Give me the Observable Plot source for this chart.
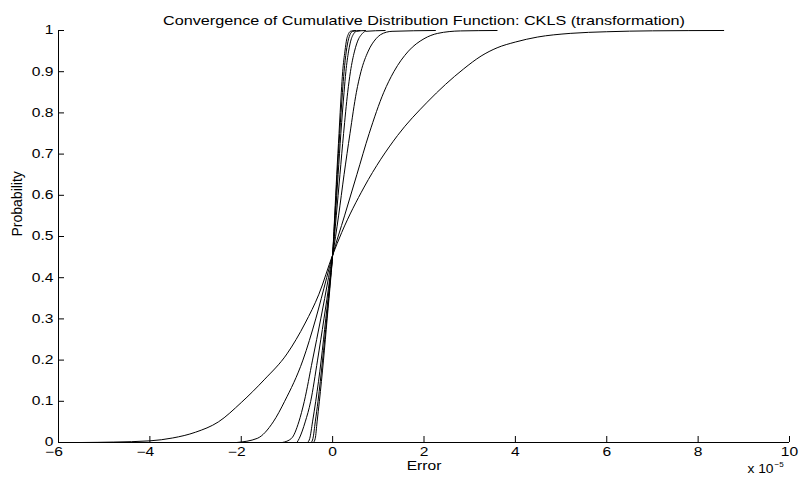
<!DOCTYPE html>
<html><head><meta charset="utf-8">
<script src="https://cdn.jsdelivr.net/npm/d3@7"></script>
<script src="https://cdn.jsdelivr.net/npm/@observablehq/plot@0.6"></script>
<style>
body{margin:0;background:#fff}
#chart svg{font-family:"Liberation Sans",Arial,Helvetica,sans-serif;}
</style>
</head><body><div id="chart"></div>
<script>
// Each curve: error values (units of 1e-5) and cumulative probability values
const curveA_x = [-5.5, -4.8, -4.0, -3.5, -3.0, -2.5, -2.0, -1.5, -1.0, -0.6, -0.3, 0, 0.2, 0.69, 1.42, 2.07, 2.87, 3.25, 3.6, 4.0, 4.48, 5.2, 6.0, 7.0, 8.56];
const curveA_p = [0, 0.001, 0.004, 0.011, 0.025, 0.05, 0.097, 0.152, 0.215, 0.29, 0.36, 0.455, 0.51, 0.62, 0.745, 0.826, 0.907, 0.938, 0.958, 0.972, 0.984, 0.993, 0.997, 0.9992, 1];
const curveB_x = [-2.1, -1.65, -1.3, -1.05, -0.65, -0.37, -0.13, 0, 0.26, 0.53, 0.8, 1.12, 1.34, 1.66, 2.0, 2.3, 2.8, 3.6];
const curveB_p = [0, 0.01, 0.05, 0.1, 0.2, 0.3, 0.4, 0.455, 0.55, 0.65, 0.75, 0.85, 0.9, 0.95, 0.98, 0.993, 0.999, 1];
const curveC_x = [-1.1, -0.9, -0.74, -0.62, -0.44, -0.26, -0.09, 0, 0.13, 0.25, 0.38, 0.52, 0.62, 0.78, 0.95, 1.05, 1.3, 2.25];
const curveC_p = [0, 0.01, 0.05, 0.1, 0.2, 0.3, 0.4, 0.455, 0.55, 0.65, 0.75, 0.85, 0.9, 0.95, 0.98, 0.99, 0.998, 1];
const curveD_x = [-0.78, -0.73, -0.6, -0.48, -0.33, -0.19, -0.06, 0, 0.08, 0.16, 0.24, 0.33, 0.39, 0.48, 0.57, 0.63, 0.72, 1.15];
const curveD_p = [0, 0.01, 0.05, 0.1, 0.2, 0.3, 0.4, 0.455, 0.55, 0.65, 0.75, 0.85, 0.9, 0.95, 0.98, 0.99, 0.998, 1];
const curveE_x = [-0.55, -0.5, -0.44, -0.37, -0.25, -0.15, -0.05, 0, 0.06, 0.12, 0.18, 0.25, 0.29, 0.35, 0.41, 0.45, 0.52, 0.72];
const curveE_p = [0, 0.01, 0.05, 0.1, 0.2, 0.3, 0.4, 0.455, 0.55, 0.65, 0.75, 0.85, 0.9, 0.95, 0.98, 0.99, 0.998, 1];
const curveF_x = [-0.47, -0.43, -0.38, -0.32, -0.22, -0.13, -0.045, 0, 0.05, 0.1, 0.155, 0.215, 0.25, 0.3, 0.35, 0.38, 0.44, 0.6];
const curveF_p = [0, 0.01, 0.05, 0.1, 0.2, 0.3, 0.4, 0.455, 0.55, 0.65, 0.75, 0.85, 0.9, 0.95, 0.98, 0.99, 0.998, 1];
const curveG_x = [-0.42, -0.38, -0.34, -0.29, -0.2, -0.12, -0.04, 0, 0.045, 0.09, 0.14, 0.19, 0.22, 0.27, 0.31, 0.34, 0.39, 0.5];
const curveG_p = [0, 0.01, 0.05, 0.1, 0.2, 0.3, 0.4, 0.455, 0.55, 0.65, 0.75, 0.85, 0.9, 0.95, 0.98, 0.99, 0.998, 1];
const seriesNames = ["A", "B", "C", "D", "E", "F", "G"];
const seriesX = [curveA_x, curveB_x, curveC_x, curveD_x, curveE_x, curveF_x, curveG_x];
const seriesP = [curveA_p, curveB_p, curveC_p, curveD_p, curveE_p, curveF_p, curveG_p];

const xTicks = [-6, -4, -2, 0, 2, 4, 6, 8, 10];
const yTicks = [0, 0.1, 0.2, 0.3, 0.4, 0.5, 0.6, 0.7, 0.8, 0.9, 1];
const titleText = "Convergence of Cumulative Distribution Function: CKLS (transformation)";
const xLabel = "Error";
const yLabel = "Probability";
const xMultiplier = "x 10";
const xExponent = "−5";
const minusSign = "−";

const rows = [];
seriesX.forEach((xs, i) => xs.forEach((x, j) => rows.push({series: seriesNames[i], x, p: seriesP[i][j]})));

const W = 800, H = 483, mL = 58, mR = 11, mT = 30, mB = 41;
const plotW = W - mL - mR, plotH = H - mT - mB;
const tickLen = 6;
const FS = 12;
const SX = 1.3;

const chart = Plot.plot({
  width: W, height: H,
  marginLeft: mL, marginRight: mR, marginTop: mT, marginBottom: mB,
  style: {fontSize: FS + "px", fontFamily: "'Liberation Sans', Arial, sans-serif", color: "#000", background: "#fff"},
  x: {domain: [-6, 10], ticks: xTicks, label: null},
  y: {domain: [0, 1], ticks: yTicks, label: null, tickFormat: d3.format("~g")},
  marks: [
    // digits centred on the tick, minus sign hanging to the left (MATLAB style)
    Plot.axisX(xTicks, {tickSize: 0, tickPadding: 5, label: null, fontSize: FS, tickFormat: d => String(Math.abs(d))}),
    Plot.text(xTicks.filter(d => d < 0), {x: d => d, text: () => minusSign, frameAnchor: "bottom", lineAnchor: "top", textAnchor: "end", dx: -FS * 0.556 * SX / 2, dy: 5, fontSize: FS}),
    Plot.axisY(yTicks, {tickSize: 0, tickPadding: 5, label: null, fontSize: FS, tickFormat: d3.format("~g")}),
    Plot.line(rows, {x: "x", y: "p", z: "series", stroke: "#000", strokeWidth: 1, curve: "monotone-x"}),
    Plot.ruleY([0], {stroke: "#000", strokeWidth: 1}),
    Plot.ruleX([-6], {stroke: "#000", strokeWidth: 1}),
    Plot.tickY(yTicks, {y: d => d, stroke: "#000", insetRight: plotW - tickLen}),
    Plot.tickX(xTicks, {x: d => d, stroke: "#000", insetTop: plotH - tickLen}),
    Plot.text([titleText], {frameAnchor: "top", dy: -14, fontSize: FS}),
    Plot.text([yLabel], {frameAnchor: "left", rotate: -90, dx: -41, fontSize: 14}),
    Plot.text([xLabel], {frameAnchor: "bottom", dy: 27.5, fontSize: FS}),
    Plot.text([xMultiplier], {frameAnchor: "bottom-right", textAnchor: "end", dx: -16, dy: 30, fontSize: FS}),
    Plot.text([xExponent], {frameAnchor: "bottom-right", textAnchor: "start", dx: -15, dy: 24, fontSize: 8})
  ]
});
document.getElementById("chart").appendChild(chart);
// widen horizontal text glyphs to match the reference's wide lettering
d3.select(chart).selectAll("text").each(function () {
  const t = this.textContent;
  if (t === yLabel || t === xExponent) return;
  const sx = t === titleText ? 1.35 : t === xMultiplier ? 1.15 : SX;
  const tr = this.getAttribute("transform") || "";
  this.setAttribute("transform", (tr + ` scale(${sx},1)`).trim());
});
</script>
</body></html>
